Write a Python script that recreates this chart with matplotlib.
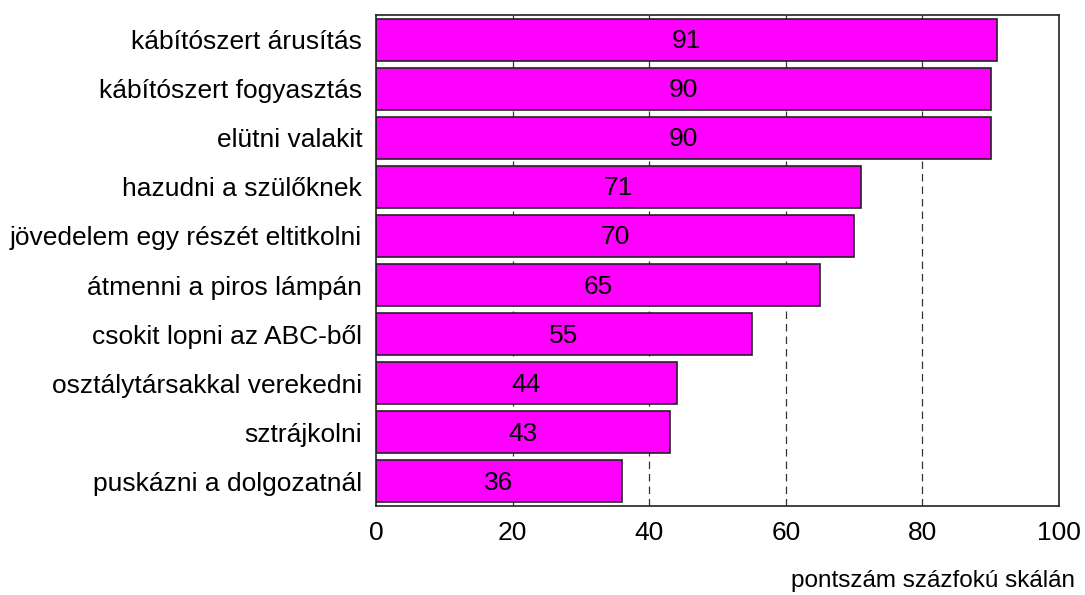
import matplotlib.pyplot as plt

plt.rcParams['font.family'] = ['Liberation Sans', 'DejaVu Sans']

# Activities and their scores on a 0-100 scale
activities = [
    'kábítószert árusítás',
    'kábítószert fogyasztás',
    'elütni valakit',
    'hazudni a szülőknek',
    'jövedelem egy részét eltitkolni',
    'átmenni a piros lámpán',
    'csokit lopni az ABC-ből',
    'osztálytársakkal verekedni',
    'sztrájkolni',
    'puskázni a dolgozatnál',
]
scores = [91, 90, 90, 71, 70, 65, 55, 44, 43, 36]
xticks = [0, 20, 40, 60, 80, 100]

fig = plt.figure(figsize=(10.85, 5.95), dpi=100)
ax = fig.add_axes([0.3466, 0.1496, 0.6294, 0.8252])

pos = list(range(len(activities)))
ax.barh(pos, scores, height=0.855, color='#FF00FF', edgecolor='#222222',
        linewidth=1.2, zorder=2)

for p, v in zip(pos, scores):
    ax.text(v / 2, p + 0.03, str(v), ha='center', va='center', fontsize=19, zorder=3)

# dashed reference lines behind the bars
for x in xticks[1:-1]:
    ax.axvline(x, color='#333333', linestyle=(0, (6, 4)), linewidth=0.9, zorder=1)

ax.set_xlim(0, 100)
ax.set_ylim(len(activities) - 0.5, -0.5)
ax.set_xticks(xticks)
ax.set_yticks(pos)
ax.set_yticklabels(activities)
ax.tick_params(axis='both', length=0, labelsize=19)
ax.tick_params(axis='x', pad=11)
ax.tick_params(axis='y', pad=10)
for s in ax.spines.values():
    s.set_linewidth(1.2)
    s.set_color('#222222')

fig.text(0.991, 0.014, 'pontszám százfokú skálán', ha='right', va='baseline', fontsize=17.5)

fig.savefig('out.png', dpi=100)
